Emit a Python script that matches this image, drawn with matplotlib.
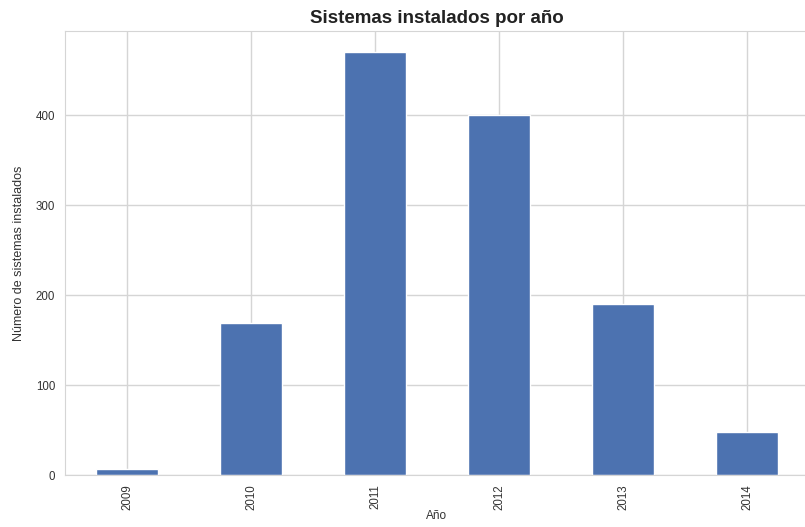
import matplotlib
matplotlib.use("Agg")
import matplotlib.pyplot as plt
import seaborn as sns
import pandas as pd

years = ["2009", "2010", "2011", "2012", "2013", "2014"]
installed = [7, 169, 470, 400, 190, 48]

sns.set_style("whitegrid")
plt.rcParams['font.family'] = ['Liberation Sans', 'DejaVu Sans']

fig = plt.figure(figsize=(8.05, 5.27), dpi=100)
# axes run past the right edge like the cropped original
ax = fig.add_axes([65 / 805, 1 - 475 / 527, 744 / 805, 444 / 527])

serie = pd.Series(installed, index=years)
serie.plot(kind="bar", ax=ax, color="#4C72B0", width=0.5)

ax.set_title("Sistemas instalados por año", fontsize=13.5, fontweight="bold", pad=6, color="#222222")
ax.set_xlabel("Año", fontsize=8.5, color="#333333", labelpad=0)
ax.set_ylabel("Número de sistemas instalados", fontsize=9, color="#333333", labelpad=8)
ax.tick_params(axis="both", labelsize=8.3, colors="#333333", length=0)
ax.tick_params(axis="x", pad=7)
ax.tick_params(axis="y", pad=7)
ax.set_ylim(0, 493.5)
ax.set_xlim(-0.5, 5.5)
ax.grid(True, color="#d5d5d5", linewidth=1)
for s in ax.spines.values():
    s.set_color("#d5d5d5")

fig.savefig("out.png", dpi=100)
